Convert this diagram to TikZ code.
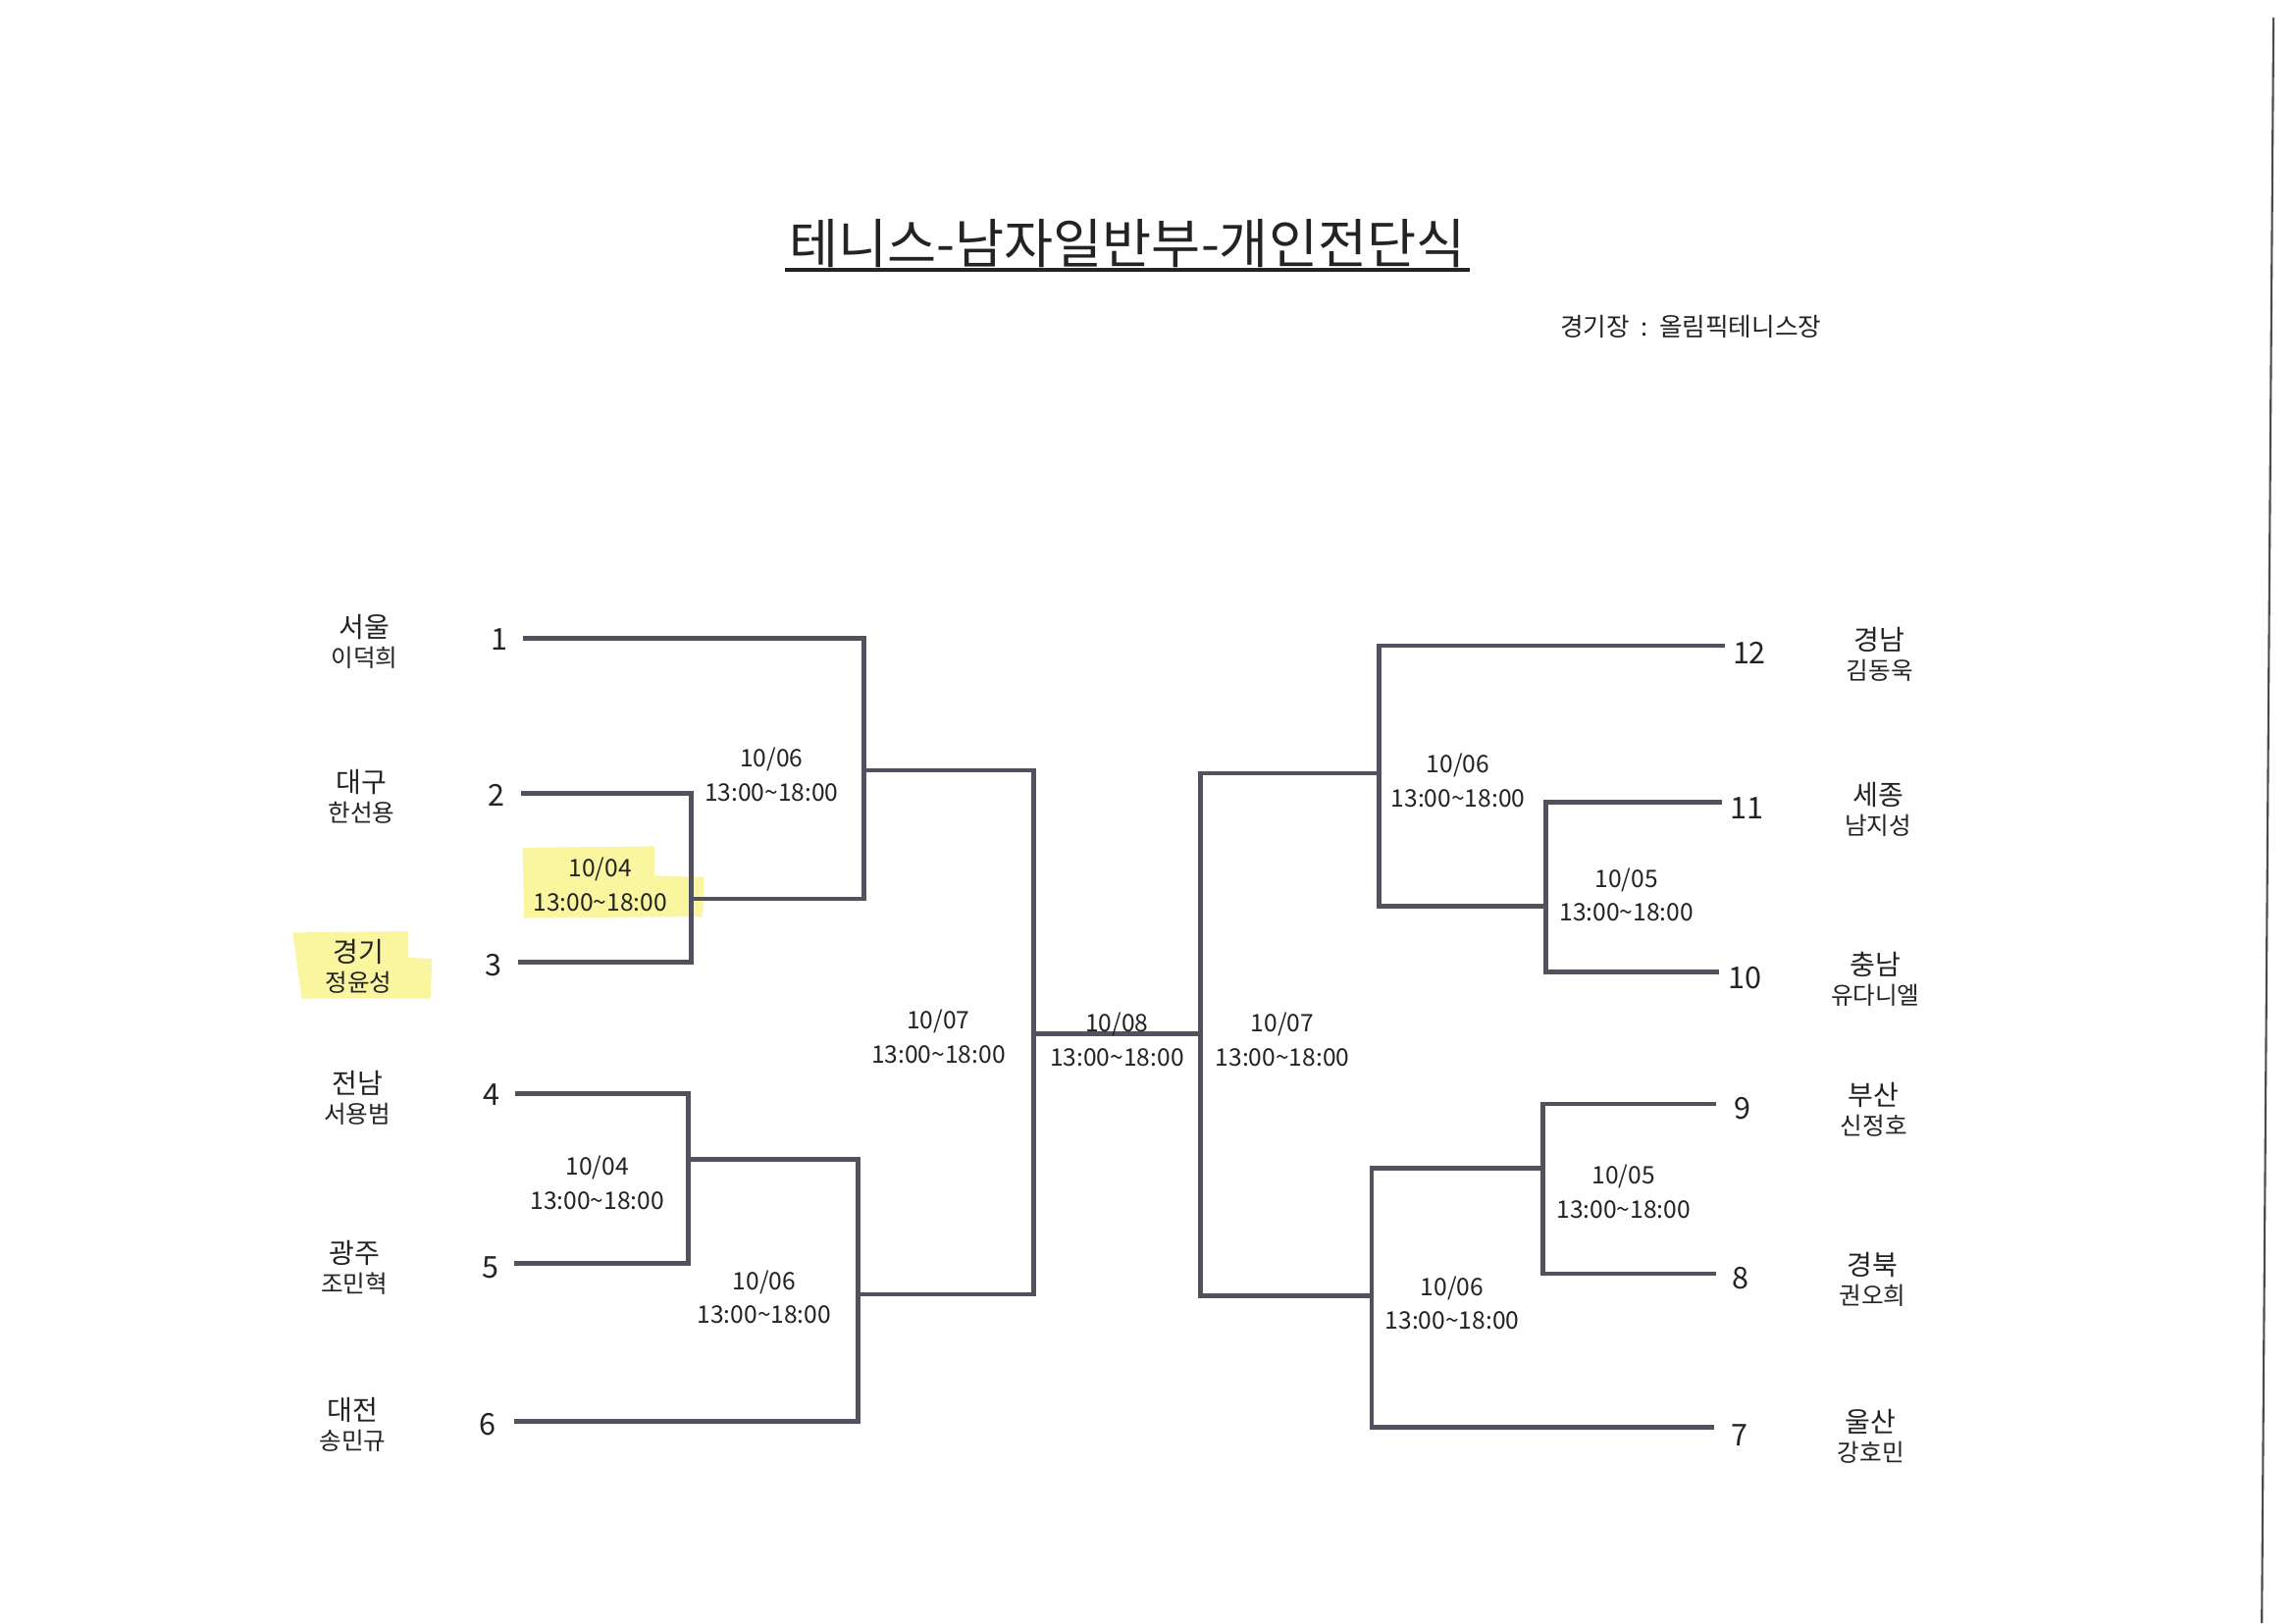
\documentclass[tikz,border=0pt]{standalone}
\usepackage{fontspec}
\setmainfont{Noto Sans CJK KR}
\usetikzlibrary{calc}
\definecolor{linec}{RGB}{82,82,94}
\definecolor{txtc}{RGB}{35,35,35}
\definecolor{hl}{RGB}{250,246,160}
\tikzset{
  bline/.style={draw=linec, line width=1.3pt, line join=miter},
  numlbl/.style={font=\fontsize{8.7}{10}\selectfont, text=txtc, inner sep=0pt},
  teamlbl/.style={align=center, text=txtc, inner sep=0pt, font=\fontsize{7}{8.6}\selectfont},
  datelbl/.style={align=center, text=txtc, inner sep=0pt, font=\fontsize{7}{9.8}\selectfont},
  hlbox/.style={fill=hl, draw=none},
}
\newcommand{\tmlbl}[2]{{\fontsize{8}{8.6}\selectfont #1}\\{\fontsize{7}{8.6}\selectfont #2}}
\newcommand{\dtlbl}[1]{#1\\13:00\textasciitilde18:00}
\begin{document}
\begin{tikzpicture}[x=0.1492mm,y=-0.1492mm]
\useasboundingbox (0,0) rectangle (1567,1108.6);
\fill[white] (0,0) rectangle (1567,1108.6);
% scan edge
\coordinate (e1) at (1553,12);
\coordinate (e2) at (1545,1108.6);
\draw[black!70, line width=0.6pt] (e1) -- (e2);
% highlights
\fill[hlbox] (357,579) -- (447,578) -- (447,598) -- (481,599) -- (480,626) -- (358,627) -- cycle;
\fill[hlbox] (200,637) -- (279,636) -- (279,654) -- (295,655) -- (294,682) -- (206,682) -- cycle;
% title
\node[inner sep=0pt, text=txtc, font=\fontsize{15.5}{18}\selectfont] (title) at (770,166) {테니스-남자일반부-개인전단식};
\draw[draw=txtc, line width=1pt] ([xshift=-1pt,yshift=-2pt]title.base west) -- ([xshift=1pt,yshift=-2pt]title.base east);
\node[inner sep=0pt, text=txtc, font=\fontsize{7.3}{8}\selectfont] (venue) at (1155,223) {경기장\ \ :\ \ 올림픽테니스장};
% team labels left
\node[teamlbl] (t1) at (249,438) {\tmlbl{서울}{이덕희}};
\node[teamlbl] (t2) at (247,544) {\tmlbl{대구}{한선용}};
\node[teamlbl] (t3) at (245,660) {\tmlbl{경기}{정윤성}};
\node[teamlbl] (t4) at (244,750) {\tmlbl{전남}{서용범}};
\node[teamlbl] (t5) at (242,866) {\tmlbl{광주}{조민혁}};
\node[teamlbl] (t6) at (241,973) {\tmlbl{대전}{송민규}};
% team labels right
\node[teamlbl] (t12) at (1284,447) {\tmlbl{경남}{김동욱}};
\node[teamlbl] (t11) at (1283,553) {\tmlbl{세종}{남지성}};
\node[teamlbl] (t10) at (1281,669) {\tmlbl{충남}{유다니엘}};
\node[teamlbl] (t9) at (1280,758) {\tmlbl{부산}{신정호}};
\node[teamlbl] (t8) at (1279,874) {\tmlbl{경북}{권오희}};
\node[teamlbl] (t7) at (1278,981) {\tmlbl{울산}{강호민}};
% seed numbers
\node[numlbl] (n1) at (341,437) {1};
\node[numlbl] (n2) at (339,543) {2};
\node[numlbl] (n3) at (337,659) {3};
\node[numlbl] (n4) at (336,748) {4};
\node[numlbl] (n5) at (335,866) {5};
\node[numlbl] (n6) at (333,973) {6};
\node[numlbl] (n12) at (1195,446) {12};
\node[numlbl] (n11) at (1193,552) {11};
\node[numlbl] (n10) at (1192,668) {10};
\node[numlbl] (n9) at (1190,757) {9};
\node[numlbl] (n8) at (1189,873) {8};
\node[numlbl] (n7) at (1188,980) {7};
% bracket points
\coordinate (a1) at (357,436);
\coordinate (a2) at (356,542);
\coordinate (a3) at (354,657);
\coordinate (a4) at (352,747);
\coordinate (a5) at (351,863);
\coordinate (a6) at (351,971);
\coordinate (m23) at (472,614);
\coordinate (m123) at (590,526);
\coordinate (m45) at (470,792);
\coordinate (m456) at (586,884);
\coordinate (sl) at (706,706);
\coordinate (sr) at (820,706);
\coordinate (b12) at (1178,441);
\coordinate (b11) at (1176,548);
\coordinate (b10) at (1174,664);
\coordinate (b9) at (1172,754);
\coordinate (b8) at (1172,870);
\coordinate (b7) at (1171,975);
\coordinate (r1110) at (1056,619);
\coordinate (r121110) at (942,528);
\coordinate (r98) at (1054,798);
\coordinate (r987) at (937,885);
% left bracket
\draw[bline] (a2) -| (m23) |- (a3);
\draw[bline] (a1) -| (m123) |- (m23);
\draw[bline] (a4) -| (m45) |- (a5);
\draw[bline] (a6) -| (m456) |- (m45);
\draw[bline] (m123) -| (sl) |- (m456);
\draw[bline] (sl) -- (sr);
% right bracket
\draw[bline] (r121110) -| (sr) |- (r987);
\draw[bline] (b12) -| (r121110) |- (r1110);
\draw[bline] (b11) -| (r1110) |- (b10);
\draw[bline] (b9) -| (r98) |- (b8);
\draw[bline] (r98) -| (r987) |- (b7);
% date labels
\node[datelbl] (d123) at (527,529) {\dtlbl{10/06}};
\node[datelbl] (d23) at (410,604) {\dtlbl{10/04}};
\node[datelbl] (dsl) at (641,708) {\dtlbl{10/07}};
\node[datelbl] (dfin) at (763,710) {\dtlbl{10/08}};
\node[datelbl] (d45) at (408,808) {\dtlbl{10/04}};
\node[datelbl] (d456) at (522,886) {\dtlbl{10/06}};
\node[datelbl] (dr1) at (996,533) {\dtlbl{10/06}};
\node[datelbl] (dr1110) at (1111,611) {\dtlbl{10/05}};
\node[datelbl] (dsr) at (876,710) {\dtlbl{10/07}};
\node[datelbl] (dr98) at (1109,814) {\dtlbl{10/05}};
\node[datelbl] (dr987) at (992,890) {\dtlbl{10/06}};
\end{tikzpicture}
\end{document}
